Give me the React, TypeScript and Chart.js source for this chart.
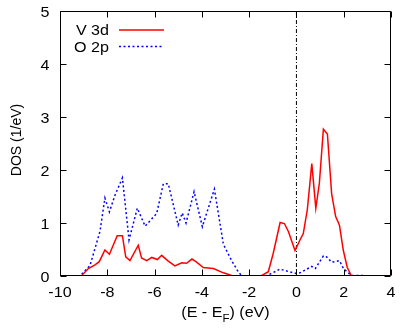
import React, { useEffect, useRef } from "react";
import { Chart, registerables } from "chart.js";

Chart.register(...registerables);

const vEnergy = [-10, -9.1, -8.8, -8.52, -8.34, -8.1, -7.91, -7.58, -7.36, -7.22, -7.04, -6.69, -6.55, -6.33, -6.12, -5.88, -5.7, -5.42, -5.14, -4.85, -4.65, -4.42, -4.25, -3.94, -3.51, -3.09, -2.74, -1.5, -1.19, -0.98, -0.69, -0.51, -0.34, -0.06, 0.15, 0.29, 0.46, 0.65, 0.82, 0.97, 1.14, 1.31, 1.49, 1.66, 1.82, 1.98, 2.15, 2.32, 4];
const vDos = [0, 0, 0.14, 0.21, 0.27, 0.49, 0.41, 0.76, 0.76, 0.36, 0.29, 0.58, 0.34, 0.29, 0.35, 0.31, 0.39, 0.28, 0.19, 0.25, 0.24, 0.32, 0.27, 0.16, 0.14, 0.06, 0.01, 0, 0.08, 0.43, 1.01, 0.99, 0.84, 0.48, 0.68, 0.8, 1.25, 2.12, 1.28, 1.75, 2.77, 2.68, 1.55, 1.12, 0.96, 0.49, 0.16, 0.01, 0];

const oEnergy = [-10, -9.15, -8.73, -8.31, -8.1, -7.91, -7.67, -7.36, -7.08, -6.73, -6.4, -5.91, -5.63, -5.42, -5.0, -4.83, -4.67, -4.33, -3.98, -3.47, -3.09, -2.74, -2.46, -2.3, -1.3, -1.0, -0.7, -0.06, 0.15, 0.65, 0.8, 1.14, 1.28, 1.49, 1.82, 1.98, 2.13, 2.34, 4];
const oDos = [0, 0, 0.2, 0.84, 1.47, 1.21, 1.53, 1.85, 0.68, 1.28, 0.94, 1.18, 1.74, 1.74, 0.96, 1.19, 1.0, 1.59, 0.93, 1.64, 0.6, 0.29, 0.08, 0, 0, 0.06, 0.13, 0.05, 0.06, 0.18, 0.14, 0.38, 0.36, 0.26, 0.29, 0.15, 0.08, 0.01, 0];

const fermiEnergy = [0, 0];
const fermiDos = [0, 5];

const xTicks = [-10, -8, -6, -4, -2, 0, 2, 4];
const yTicks = [0, 1, 2, 3, 4, 5];
const seriesLabels = ["V 3d", "O 2p"];
const seriesColors = ["#ff0000", "#0000ff"];
const yTitle = "DOS (1/eV)";
const xTitleParts = ["(E - E", "F", ") (eV)"];

const FONT = "'Liberation Sans', Arial, Helvetica, sans-serif";
const SX = 1.15;

const toPoints = (xs: number[], ys: number[]) => xs.map((x, i) => ({ x, y: ys[i] }));

function stretchText(ctx: CanvasRenderingContext2D, text: string, x: number, y: number, align: CanvasTextAlign) {
  ctx.save();
  ctx.translate(x, y);
  ctx.scale(SX, 1);
  ctx.textAlign = align;
  ctx.fillText(text, 0, 0);
  ctx.restore();
}

const decorPlugin = {
  id: "decor",
  afterDraw(chart: any) {
    const { ctx, chartArea: a, scales } = chart;
    const xs = scales.x;
    const ys = scales.y;
    ctx.save();
    ctx.strokeStyle = "#000";
    ctx.lineWidth = 1;
    const L = Math.round(a.left) + 0.5;
    const R = Math.round(a.right) - 0.5;
    const T = Math.round(a.top) + 0.5;
    const B = Math.round(a.bottom) - 0.5;
    ctx.beginPath();
    ctx.rect(L, T, R - L, B - T);
    const tl = 6;
    xTicks.forEach((v) => {
      const p = Math.round(xs.getPixelForValue(v)) + 0.5;
      ctx.moveTo(p, B);
      ctx.lineTo(p, B - tl);
      ctx.moveTo(p, T);
      ctx.lineTo(p, T + tl);
    });
    yTicks.forEach((v) => {
      const p = Math.round(ys.getPixelForValue(v)) + 0.5;
      ctx.moveTo(L, p);
      ctx.lineTo(L + tl, p);
      ctx.moveTo(R, p);
      ctx.lineTo(R - tl, p);
    });
    ctx.stroke();

    const big = `14px ${FONT}`;
    const small = `10px ${FONT}`;
    ctx.fillStyle = "#000";
    ctx.textBaseline = "alphabetic";
    ctx.font = big;

    // tick labels
    xTicks.forEach((v) => {
      stretchText(ctx, String(v), xs.getPixelForValue(v), a.bottom + 20.7, "center");
    });
    yTicks.forEach((v) => {
      stretchText(ctx, String(v), a.left - 10.5, ys.getPixelForValue(v) + 5.5, "right");
    });

    // y title
    ctx.save();
    ctx.translate(21, (a.top + a.bottom) / 2 - 3.5);
    ctx.rotate(-Math.PI / 2);
    ctx.textAlign = "center";
    ctx.fillText(yTitle, 0, 0);
    ctx.restore();

    // legend
    seriesLabels.forEach((lab, i) => {
      const base = a.top + 24 + i * 16.5;
      ctx.font = big;
      stretchText(ctx, lab, a.left + 49, base, "right");
      const yy = base - 5;
      ctx.beginPath();
      ctx.strokeStyle = seriesColors[i];
      ctx.lineWidth = 1.5;
      ctx.setLineDash(i === 1 ? [2, 2.5] : []);
      ctx.moveTo(a.left + 59, yy);
      ctx.lineTo(a.left + 104, yy);
      ctx.stroke();
    });
    ctx.setLineDash([]);

    // x title with subscript
    ctx.font = big;
    const w0 = ctx.measureText(xTitleParts[0]).width * SX;
    const w2 = ctx.measureText(xTitleParts[2]).width * SX;
    ctx.font = small;
    const w1 = ctx.measureText(xTitleParts[1]).width * SX;
    const total = w0 + w1 + w2;
    const x0 = (a.left + a.right) / 2 - total / 2;
    const base = 316.7;
    ctx.font = big;
    stretchText(ctx, xTitleParts[0], x0, base, "left");
    ctx.font = small;
    stretchText(ctx, xTitleParts[1], x0 + w0, base + 5, "left");
    ctx.font = big;
    stretchText(ctx, xTitleParts[2], x0 + w0 + w1, base, "left");
    ctx.restore();
  },
};

export default function App() {
  const ref = useRef<HTMLCanvasElement | null>(null);
  useEffect(() => {
    if (!ref.current) return;
    Chart.defaults.font.family = FONT;
    const chart = new Chart(ref.current, {
      type: "line",
      data: {
        datasets: [
          {
            label: seriesLabels[0],
            data: toPoints(vEnergy, vDos),
            borderColor: seriesColors[0],
            borderWidth: 1.5,
            pointRadius: 0,
            tension: 0,
            fill: false,
          },
          {
            label: seriesLabels[1],
            data: toPoints(oEnergy, oDos),
            borderColor: seriesColors[1],
            borderWidth: 1.5,
            borderDash: [2, 2.5],
            pointRadius: 0,
            tension: 0,
            fill: false,
          },
          {
            label: "EF",
            data: toPoints(fermiEnergy, fermiDos),
            borderColor: "#000",
            borderWidth: 1,
            borderDash: [4, 2, 1, 2],
            pointRadius: 0,
            fill: false,
          },
        ],
      },
      options: {
        animation: false,
        responsive: true,
        maintainAspectRatio: false,
        layout: { padding: { top: 11, right: 10, left: 0, bottom: 0 } },
        plugins: { legend: { display: false }, tooltip: { enabled: false } },
        scales: {
          x: {
            type: "linear",
            min: -10,
            max: 4,
            afterFit: (s: any) => {
              s.height = 54;
            },
            ticks: { display: false },
            grid: { display: false, drawTicks: false },
            border: { display: false },
          },
          y: {
            type: "linear",
            min: 0,
            max: 5,
            afterFit: (s: any) => {
              s.width = 60;
            },
            ticks: { display: false },
            grid: { display: false, drawTicks: false },
            border: { display: false },
          },
        },
      },
      plugins: [decorPlugin],
    });
    return () => chart.destroy();
  }, []);
  return (
    <div style={{ position: "absolute", left: 0, top: 0, width: 401, height: 330, background: "#fff" }}>
      <canvas ref={ref} />
    </div>
  );
}
